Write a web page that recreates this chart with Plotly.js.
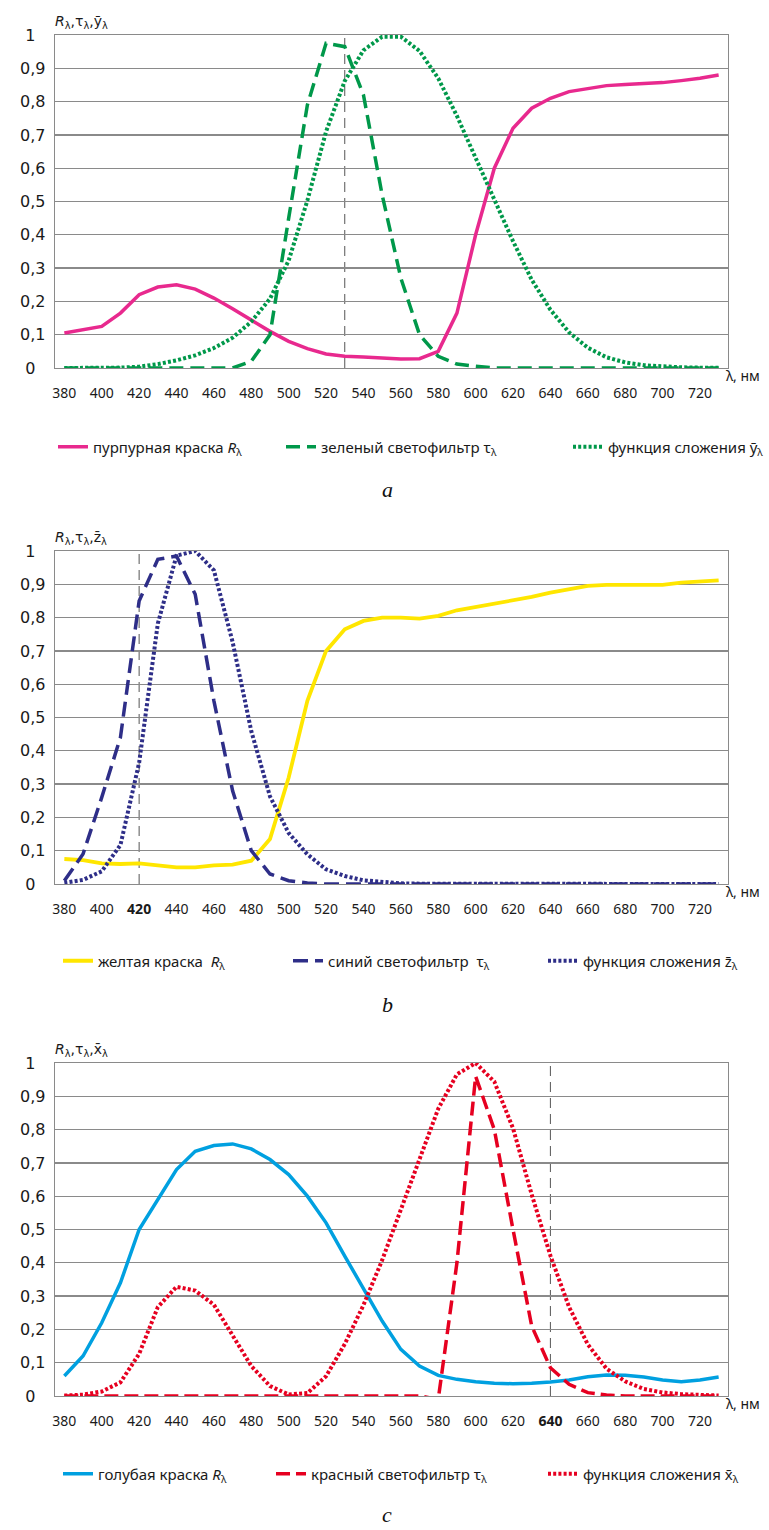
<!DOCTYPE html>
<html><head><meta charset="utf-8">
<script src="https://cdn.plot.ly/plotly-3.0.1.min.js"></script>
<style>html,body{margin:0;padding:0;background:#fff}#chart{width:769px;height:1530px}</style>
</head><body><div id="chart"></div>
<script>
// ---- data ----
const wavelengths = [380,390,400,410,420,430,440,450,460,470,480,490,500,510,520,530,540,550,560,570,580,590,600,610,620,630,640,650,660,670,680,690,700,710,720,730];
const xTickVals = [380,400,420,440,460,480,500,520,540,560,580,600,620,640,660,680,700,720];
const xTickTextA = ['380','400','420','440','460','480','500','520','540','560','580','600','620','640','660','680','700','720'];
const xTickTextB = ['380','400','<b>420</b>','440','460','480','500','520','540','560','580','600','620','640','660','680','700','720'];
const xTickTextC = ['380','400','420','440','460','480','500','520','540','560','580','600','620','<b>640</b>','660','680','700','720'];
const yTickVals = [0,0.1,0.2,0.3,0.4,0.5,0.6,0.7,0.8,0.9,1];
const yTickText = ['0\u00a0\u00a0','0,1','0,2','0,3','0,4','0,5','0,6','0,7','0,8','0,9','1\u00a0\u00a0'];

// panel a
const magentaPaint = [0.105,0.115,0.125,0.165,0.22,0.243,0.25,0.237,0.21,0.178,0.143,0.11,0.08,0.058,0.042,0.035,0.033,0.03,0.027,0.028,0.05,0.165,0.4,0.6,0.72,0.78,0.81,0.83,0.84,0.848,0.851,0.853,0.857,0.863,0.87,0.88];
const greenFilter = [0,0,0,0,0,0,0,0,0,0,0.02,0.1,0.45,0.79,0.975,0.965,0.82,0.52,0.27,0.1,0.035,0.012,0.005,0,0,0,0,0,0,0,0,0,0,0,0,0];
const yBar = [0.0000,0.0001,0.0004,0.0012,0.004,0.0116,0.023,0.038,0.06,0.091,0.139,0.208,0.323,0.503,0.71,0.862,0.954,0.995,0.995,0.952,0.87,0.757,0.631,0.503,0.381,0.265,0.175,0.107,0.061,0.032,0.017,0.0082,0.0041,0.0021,0.001,0.0005];
// panel b
const yellowPaint = [0.075,0.072,0.062,0.06,0.062,0.057,0.05,0.05,0.056,0.058,0.07,0.135,0.32,0.55,0.7,0.765,0.79,0.8,0.8,0.797,0.805,0.822,0.832,0.84,0.85,0.862,0.875,0.886,0.895,0.898,0.898,0.898,0.898,0.905,0.908,0.912];
const blueFilter = [0.01,0.09,0.26,0.44,0.85,0.975,0.985,0.87,0.55,0.28,0.1,0.03,0.01,0.003,0,0,0,0,0,0,0,0,0,0,0,0,0,0,0,0,0,0,0,0,0,0];
const zBar = [0.0036,0.0124,0.038,0.117,0.364,0.782,0.986,1.0,0.942,0.727,0.459,0.263,0.153,0.089,0.044,0.024,0.011,0.005,0.002,0.001,0.001,0.0006,0.0005,0.0002,0.0001,0,0,0,0,0,0,0,0,0,0,0];
// panel c
const cyanPaint = [0.06,0.12,0.22,0.34,0.5,0.59,0.68,0.735,0.752,0.757,0.742,0.71,0.665,0.6,0.52,0.42,0.32,0.225,0.14,0.09,0.062,0.05,0.043,0.038,0.037,0.038,0.042,0.048,0.058,0.063,0.062,0.057,0.048,0.043,0.048,0.057];
const redFilter = [0,0,0,0,0,0,0,0,0,0,0,0,0,0,0,0,0,0,0,0,-0.01,0.4,0.96,0.8,0.5,0.21,0.085,0.035,0.01,0.003,0,0,0,0,0,0];
const xBar = [0.0013,0.004,0.0135,0.041,0.1265,0.267,0.328,0.3165,0.274,0.184,0.09,0.03,0.0046,0.0088,0.0596,0.156,0.273,0.408,0.56,0.7175,0.8627,0.966,1.0,0.944,0.804,0.605,0.4217,0.267,0.155,0.082,0.044,0.021,0.0107,0.0055,0.0027,0.0014];

const markerA = 530, markerB = 420, markerC = 640;

const namesA = ['пурпурная краска <i>R</i><sub>λ</sub>','зеленый светофильтр τ<sub>λ</sub>','функция сложения ȳ<sub>λ</sub>'];
const namesB = ['желтая краска  <i>R</i><sub>λ</sub>','синий светофильтр  τ<sub>λ</sub>','функция сложения z\u0304<sub>λ</sub>'];
const namesC = ['голубая краска <i>R</i><sub>λ</sub>','красный светофильтр τ<sub>λ</sub>','функция сложения x\u0304<sub>λ</sub>'];
const yTitles = ['<i>R</i><sub>λ</sub>,τ<sub>λ</sub>,ȳ<sub>λ</sub>','<i>R</i><sub>λ</sub>,τ<sub>λ</sub>,z\u0304<sub>λ</sub>','<i>R</i><sub>λ</sub>,τ<sub>λ</sub>,x\u0304<sub>λ</sub>'];
const captions = ['a','b','c'];

// ---- layout geometry (pixels) ----
const W = 769, H = 1530;
const plotL = 55, plotR = 728;
const panels = [{top:35,bottom:368,legendY:447,capY:490},{top:551,bottom:884,legendY:961,capY:1004},{top:1063,bottom:1396,legendY:1474,capY:1514}];
const legendX = [[58,183,242],[58,185,210],[58,168,227]];

const DOT = '3px,2.2px';
function tr(y, name, color, dash, width, ax, lg, lw){
  const t = {x: wavelengths, y: y, name: name, type:'scatter', mode:'lines',
    line:{color:color, width:width, dash:dash}, xaxis:'x'+ax, yaxis:'y'+ax, legend:'legend'+lg, hoverinfo:'skip'};
  if (lw) t.legendwidth = lw;
  return t;
}
const data = [
  tr(magentaPaint, namesA[0], '#E8298E', 'solid', 3.5, '', '', legendX[0][1]),
  tr(greenFilter, namesA[1], '#00984A', '14px,7px', 3.5, '', '', legendX[0][2]),
  tr(yBar, namesA[2], '#00984A', DOT, 4, '', ''),
  tr(yellowPaint, namesB[0], '#FFE600', 'solid', 3.8, '2', '2', legendX[1][1]),
  tr(blueFilter, namesB[1], '#2E2E88', '15px,7px', 3.5, '2', '2', legendX[1][2]),
  tr(zBar, namesB[2], '#2E2E88', DOT, 4, '2', '2'),
  tr(cyanPaint, namesC[0], '#00A0E0', 'solid', 3.5, '3', '3', legendX[2][1]),
  tr(redFilter, namesC[1], '#E60020', '14px,6px', 3.5, '3', '3', legendX[2][2]),
  tr(xBar, namesC[2], '#E60020', DOT, 4, '3', '3')
];

const gridColor = '#8a8a8a';
function xaxis(anchor, ticktext){
  return {domain:[plotL/W, plotR/W], range:[375,735], anchor:anchor, tickvals:xTickVals, ticktext:ticktext,
    showgrid:false, zeroline:false, showline:true, mirror:true, linecolor:gridColor, linewidth:1.3,
    ticks:'', ticklabelstandoff:12, tickfont:{family:'Noto Sans', size:14, color:'#1a1a1a'}, fixedrange:true};
}
function yaxis(anchor, p){
  return {domain:[1-p.bottom/H, 1-p.top/H], range:[0,1], anchor:anchor, tickvals:yTickVals, ticktext:yTickText,
    showgrid:true, gridcolor:gridColor, gridwidth:1.3, zeroline:false, showline:true, mirror:true,
    linecolor:gridColor, linewidth:1.3, ticks:'', ticklabelstandoff:5,
    tickfont:{family:'DejaVu Sans', size:16, color:'#1a1a1a'}, fixedrange:true};
}
function legend(i){
  return {x:(legendX[i][0])/W, xanchor:'left', y:1-panels[i].legendY/H, yanchor:'middle', orientation:'h',
    font:{family:'Noto Sans', size:15, color:'#1a1a1a'}, bgcolor:'rgba(0,0,0,0)', borderwidth:0};
}
const axSuffix = ['','2','3'];
const markers = [markerA, markerB, markerC];
const shapes = markers.map((m,i)=>({type:'line', xref:'x'+axSuffix[i], yref:'y'+axSuffix[i]+' domain', x0:m, x1:m, y0:0, y1:1,
  line:{color:'#555', width:1, dash:'10px,6px'}, layer:'below'}));
const annotations = [];
panels.forEach((p,i)=>{
  annotations.push({xref:'x'+axSuffix[i]+' domain', yref:'y'+axSuffix[i]+' domain', x:0, y:1, xanchor:'left', yanchor:'bottom',
    yshift:2, xshift:-2, showarrow:false, text:yTitles[i], font:{family:'DejaVu Sans', size:14, color:'#1a1a1a'}});
  annotations.push({xref:'x'+axSuffix[i]+' domain', yref:'y'+axSuffix[i]+' domain', x:1, y:0, xanchor:'left', yanchor:'middle',
    xshift:-4, yshift:-7, showarrow:false, text:'λ, нм', font:{family:'Noto Sans', size:14, color:'#1a1a1a'}});
  annotations.push({xref:'paper', yref:'paper', x:387/W, y:1-p.capY/H, xanchor:'center', yanchor:'middle', showarrow:false,
    text:'<i>'+captions[i]+'</i>', font:{family:'Liberation Serif', size:22, color:'#111'}});
});

const layout = {width:W, height:H, margin:{l:0,r:0,t:0,b:0}, paper_bgcolor:'#fff', plot_bgcolor:'#fff',
  showlegend:true,
  xaxis:xaxis('y', xTickTextA), yaxis:yaxis('x', panels[0]),
  xaxis2:xaxis('y2', xTickTextB), yaxis2:yaxis('x2', panels[1]),
  xaxis3:xaxis('y3', xTickTextC), yaxis3:yaxis('x3', panels[2]),
  legend:legend(0), legend2:legend(1), legend3:legend(2),
  shapes:shapes, annotations:annotations};
Plotly.newPlot('chart', data, layout, {displayModeBar:false, staticPlot:true});
</script></body></html>
